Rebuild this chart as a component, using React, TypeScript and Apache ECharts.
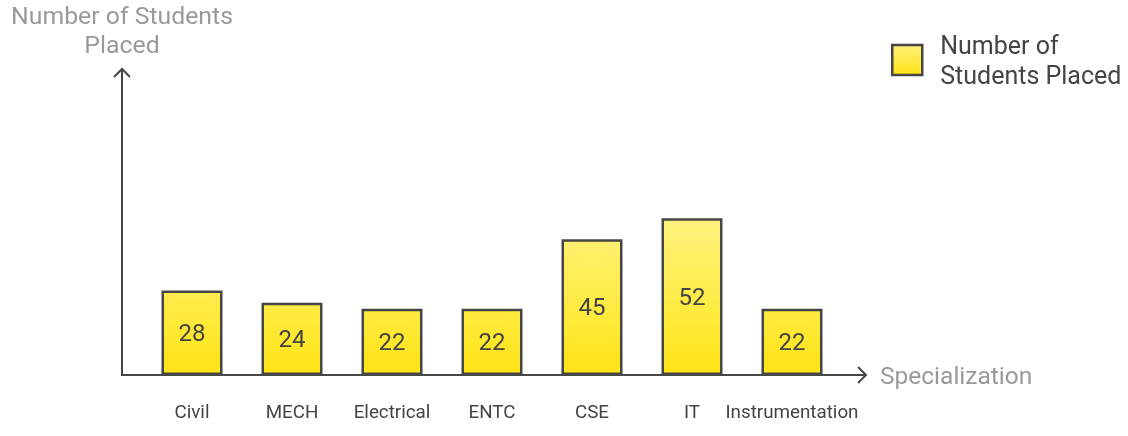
import React, { useEffect, useRef } from "react";
import * as echarts from "echarts";

const categories = ["Civil", "MECH", "Electrical", "ENTC", "CSE", "IT", "Instrumentation"];
const placed = [28, 24, 22, 22, 45, 52, 22];
const seriesName = "Number of Students Placed";
const yAxisName = "Number of Students\nPlaced";
const xAxisName = "Specialization";

export default function App() {
  const ref = useRef<HTMLDivElement>(null);
  useEffect(() => {
    if (!ref.current) return;
    const chart = echarts.init(ref.current, null, { renderer: "svg" });
    const dark = "#464646";
    chart.setOption({
      animation: false,
      textStyle: { fontFamily: "Roboto" },
      grid: { left: 142, width: 700, top: 69, height: 306 },
      legend: {
        left: 886,
        top: 25,
        itemWidth: 30,
        itemHeight: 30,
        icon: "rect",
        data: [
          {
            name: seriesName,
            itemStyle: {
              color: new echarts.graphic.LinearGradient(0, 0, 0, 1, [
                { offset: 0, color: "#FFF07A" },
                { offset: 1, color: "#FFE416" },
              ]),
              borderColor: dark,
              borderWidth: 2.5,
            },
          },
        ],
        formatter: () => "Number of\nStudents Placed",
        textStyle: { fontSize: 25, color: "#444", lineHeight: 30, fontFamily: "Roboto", padding: [0, 0, 0, 13] },
      },
      xAxis: {
        type: "category",
        data: categories,
        axisLine: { show: false },
        axisTick: { show: false },
        axisLabel: { color: "#444", fontSize: 18.8, margin: 27, interval: 0, fontFamily: "Roboto" },
        name: xAxisName,
        nameLocation: "end",
        nameGap: 38,
        nameTextStyle: { color: "#999", fontSize: 24.5, fontFamily: "Roboto" },
      },
      yAxis: {
        type: "value",
        min: 0,
        max: 101.5,
        offset: 20,
        splitLine: { show: false },
        axisLabel: { show: false },
        axisTick: { show: false },
        axisLine: { show: true, lineStyle: { color: dark, width: 2 } },
        name: yAxisName,
        nameLocation: "end",
        nameGap: 10,
        nameTextStyle: { color: "#999", fontSize: 24.8, lineHeight: 29, fontFamily: "Roboto", align: "center" },
      },
      graphic: [
        { type: "line", shape: { x1: 121, y1: 375, x2: 866, y2: 375 }, style: { stroke: dark, lineWidth: 2 }, z: 10 },
        { type: "polyline", shape: { points: [[858, 367], [866, 375], [858, 383]] }, style: { stroke: dark, lineWidth: 2, fill: null }, z: 10 },
        { type: "polyline", shape: { points: [[114, 77], [122, 69], [130, 77]] }, style: { stroke: dark, lineWidth: 2, fill: null }, z: 10 },
      ],
      series: [
        {
          name: seriesName,
          type: "bar",
          data: placed,
          barWidth: 61,
          itemStyle: {
            color: new echarts.graphic.LinearGradient(0, 210, 0, 375, [
              { offset: 0, color: "#FFF385" },
              { offset: 1, color: "#FFE414" },
            ], true),
            borderColor: dark,
            borderWidth: 2.5,
          },
          label: {
            show: true,
            position: "inside",
            color: "#444",
            fontSize: 24,
            fontFamily: "Roboto",
          },
        },
      ],
    });
    return () => chart.dispose();
  }, []);
  return <div ref={ref} style={{ position: "fixed", left: 0, top: 0, width: 1128, height: 436 }} />;
}
